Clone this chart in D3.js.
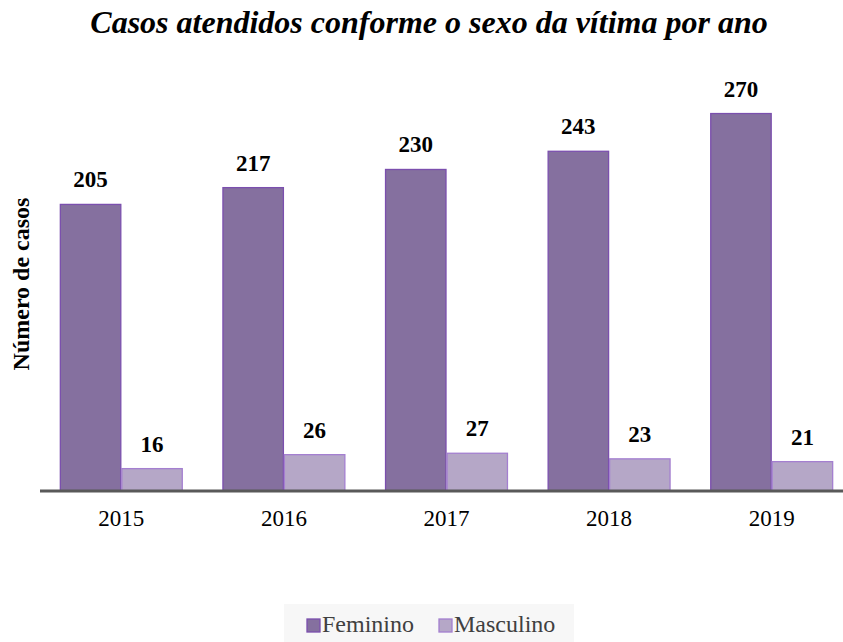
<!DOCTYPE html>
<html>
<head>
<meta charset="utf-8">
<script src="https://cdn.jsdelivr.net/npm/d3@7"></script>
<style>
  body { margin: 0; background: #fff; }
  svg { display: block; font-family: "Liberation Serif", "Times New Roman", serif; }
</style>
</head>
<body>
<svg id="canvas"></svg>
<script>
//--data
const years = ["2015", "2016", "2017", "2018", "2019"];
const feminino = [205, 217, 230, 243, 270];
const masculino = [16, 26, 27, 23, 21];
const seriesNames = ["Feminino", "Masculino"];
//--

//--canvas dimensions
let width = 843;
let height = 642;
let baseY = 491;

let canvas = d3.select("#canvas")
canvas.attr("width", width)
canvas.attr("height", height)
//--

const fills = { Feminino: "#85709f", Masculino: "#b5a7c7" };
const strokes = { Feminino: "#7b4fae", Masculino: "#a47fd0" };

let x0 = d3.scaleBand()
    .domain(years)
    .range([40, 853])
    .paddingInner(0.244)
    .paddingOuter(0.122);

let x1 = d3.scaleBand()
    .domain(seriesNames)
    .range([0, x0.bandwidth()]);

let y = d3.scaleLinear()
    .domain([0, 300])
    .range([baseY, baseY - 300 * 1.398]);

let rows = years.map((yr, i) => ({ year: yr, values: [
    { key: "Feminino", value: feminino[i] },
    { key: "Masculino", value: masculino[i] }
]}));

//--title
canvas.append("text")
    .attr("x", 429)
    .attr("y", 33)
    .attr("text-anchor", "middle")
    .attr("font-size", 32)
    .attr("font-weight", "bold")
    .attr("font-style", "italic")
    .text("Casos atendidos conforme o sexo da vítima por ano");

//--y axis title
canvas.append("text")
    .attr("transform", "translate(29,284) rotate(-90)")
    .attr("text-anchor", "middle")
    .attr("font-size", 24)
    .attr("font-weight", "bold")
    .text("Número de casos");

//--bars
let groups = canvas.selectAll("g.group")
    .data(rows)
    .enter()
    .append("g")
    .attr("class", "group")
    .attr("transform", d => "translate(" + x0(d.year) + ",0)");

groups.selectAll("rect")
    .data(d => d.values)
    .enter()
    .append("rect")
    .attr("x", d => x1(d.key) + 0.5)
    .attr("y", d => y(d.value))
    .attr("width", x1.bandwidth() - 1)
    .attr("height", d => baseY - y(d.value))
    .attr("fill", d => fills[d.key])
    .attr("stroke", d => strokes[d.key])
    .attr("stroke-width", 1.3);

groups.selectAll("text.val")
    .data(d => d.values)
    .enter()
    .append("text")
    .attr("class", "val")
    .attr("x", d => x1(d.key) + x1.bandwidth() / 2)
    .attr("y", d => y(d.value) - 17)
    .attr("text-anchor", "middle")
    .attr("font-size", 23)
    .attr("font-weight", "bold")
    .text(d => d.value);

//--x axis
let xAxis = canvas.append("g")
    .attr("transform", "translate(0," + baseY + ")")
    .call(d3.axisBottom(x0).tickSize(0).tickPadding(19));
xAxis.select(".domain").remove();
xAxis.selectAll("text")
    .attr("font-family", "Liberation Serif, serif")
    .attr("font-size", 23)
    .attr("fill", "#000");

canvas.append("line")
    .attr("x1", 40)
    .attr("x2", 843)
    .attr("y1", baseY)
    .attr("y2", baseY)
    .attr("stroke", "#595959")
    .attr("stroke-width", 3);

//--legend
let legend = canvas.append("g").attr("id", "legend");
legend.append("rect")
    .attr("x", 284)
    .attr("y", 604)
    .attr("width", 290)
    .attr("height", 38)
    .attr("fill", "#f7f7f7");

let legendX = [307, 439];
let items = legend.selectAll("g.item")
    .data(seriesNames)
    .enter()
    .append("g")
    .attr("class", "item")
    .attr("transform", (d, i) => "translate(" + legendX[i] + ",619)");

items.append("rect")
    .attr("width", 13)
    .attr("height", 13)
    .attr("fill", d => fills[d])
    .attr("stroke", d => strokes[d])
    .attr("stroke-width", 1.3);

items.append("text")
    .attr("x", 15)
    .attr("y", 13)
    .attr("font-size", 24)
    .attr("fill", "#404040")
    .text(d => d);
</script>
</body>
</html>
